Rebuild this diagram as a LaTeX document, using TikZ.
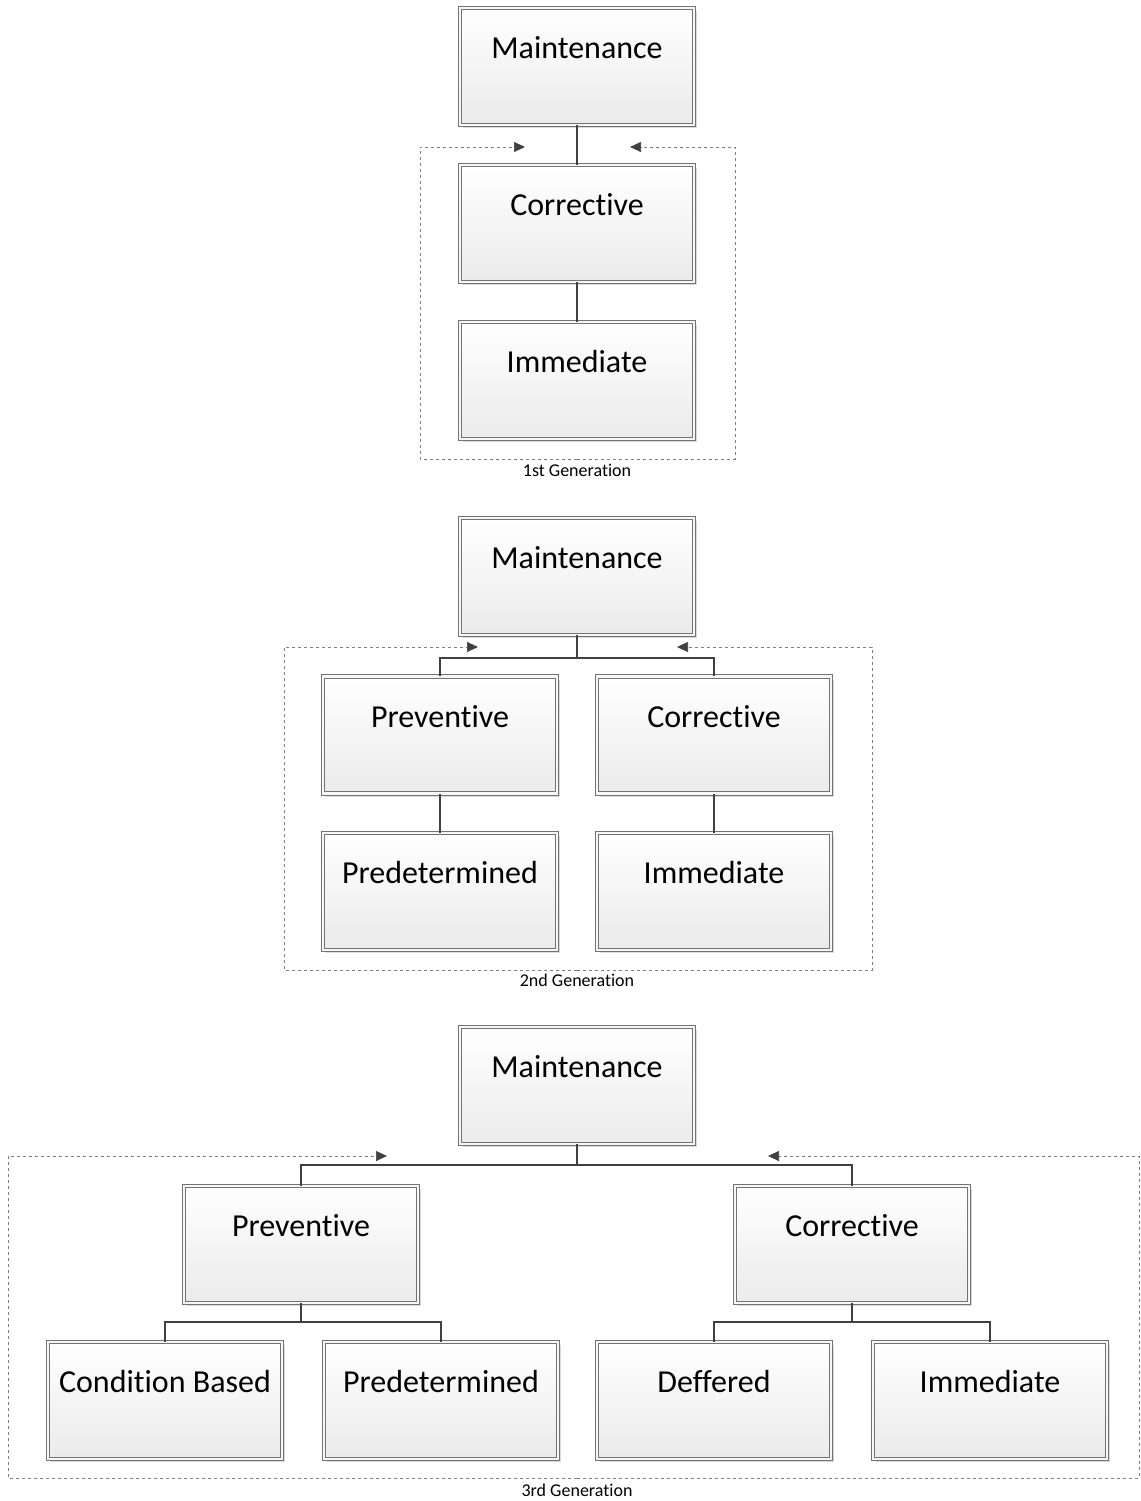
\documentclass[tikz,border=0pt]{standalone}
\usepackage{fontspec}
\setmainfont{Carlito}[Ligatures={NoCommon}]
\usetikzlibrary{arrows.meta,shadows}
\begin{document}
\begin{tikzpicture}[x=1pt,y=-1pt,
  box/.style={rectangle, minimum width=234pt, minimum height=117pt, inner sep=0pt,
    draw=black!55, double=black!3, double distance=2.5pt, line width=0.9pt,
    top color=white, bottom color=black!8,
    font=\fontsize{32}{38}\selectfont, text height=24pt, text depth=40pt,
    drop shadow={shadow xshift=3pt, shadow yshift=-3pt, fill=black!15, opacity=1}},
  link/.style={draw=black!75, line width=2pt},
  frame/.style={draw=black!50, dashed, line width=0.7pt,
    -{Triangle[length=11pt,width=10pt,fill=black!75,color=black!75]}},
  genlabel/.style={font=\fontsize{18}{20}\selectfont, inner sep=0pt}]
\useasboundingbox (0,0) rectangle (1140,1501);

% ---------- 1st generation ----------
\coordinate (f1tl) at (420,147); \coordinate (f1tr) at (735,147);
\coordinate (f1a) at (525,147); \coordinate (f1b) at (630,147);
\coordinate (f1bot) at (577,459);
\draw[frame] (f1bot) -| (f1tl) -- (f1a);
\draw[frame] (f1bot) -| (f1tr) -- (f1b);
\node[genlabel] (g1) at (577,470) {1st Generation};

\node[box] (m1) at (577,66.5) {Maintenance};
\node[box] (c1) at (577,223.5) {Corrective};
\node[box] (i1) at (577,380.5) {Immediate};
\draw[link] (m1.south) -- (c1.north);
\draw[link] (c1.south) -- (i1.north);

% ---------- 2nd generation ----------
\coordinate (f2tl) at (284,647); \coordinate (f2tr) at (872,647);
\coordinate (f2a) at (478,647); \coordinate (f2b) at (677,647);
\coordinate (f2bot) at (577,970);
\draw[frame] (f2bot) -| (f2tl) -- (f2a);
\draw[frame] (f2bot) -| (f2tr) -- (f2b);
\node[genlabel] (g2) at (577,980) {2nd Generation};

\node[box] (m2) at (577,576.5) {Maintenance};
\node[box] (p2) at (440,735) {Preventive};
\node[box] (c2) at (714,735) {Corrective};
\node[box] (pd2) at (440,891.5) {Predetermined};
\node[box] (i2) at (714,891.5) {Immediate};
\draw[link] (m2.south) -- ++(0,23) coordinate (j2) -| (p2.north);
\draw[link] (j2) -| (c2.north);
\draw[link] (p2.south) -- (pd2.north);
\draw[link] (c2.south) -- (i2.north);

% ---------- 3rd generation ----------
\coordinate (f3tl) at (8,1156); \coordinate (f3tr) at (1139,1156);
\coordinate (f3a) at (387,1156); \coordinate (f3b) at (768,1156);
\coordinate (f3bot) at (577,1478);
\draw[frame] (f3bot) -| (f3tl) -- (f3a);
\draw[frame] (f3bot) -| (f3tr) -- (f3b);
\node[genlabel] (g3) at (577,1490) {3rd Generation};

\node[box] (m3) at (577,1085.5) {Maintenance};
\node[box] (p3) at (301,1244.5) {Preventive};
\node[box] (c3) at (852,1244.5) {Corrective};
\node[box] (cb3) at (165,1400.5) {Condition Based};
\node[box] (pd3) at (441,1400.5) {Predetermined};
\node[box] (df3) at (714,1400.5) {Deffered};
\node[box] (im3) at (990,1400.5) {Immediate};
\draw[link] (m3.south) -- ++(0,21) coordinate (j3) -| (p3.north);
\draw[link] (j3) -| (c3.north);
\draw[link] (p3.south) -- ++(0,19) coordinate (jp3) -| (cb3.north);
\draw[link] (jp3) -| (pd3.north);
\draw[link] (c3.south) -- ++(0,19) coordinate (jc3) -| (df3.north);
\draw[link] (jc3) -| (im3.north);
\end{tikzpicture}
\end{document}
